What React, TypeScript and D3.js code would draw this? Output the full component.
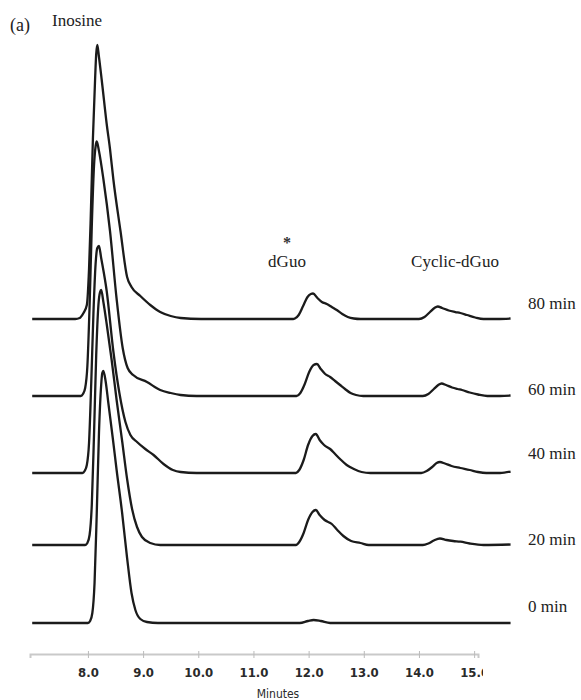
import { useEffect, useRef } from 'react';
import * as d3 from 'd3';

const width = 581;
const height = 700;

// sample labels, top to bottom, and the vertical offset of each trace (signal units)
const sampleLabels = ['80 min', '60 min', '40 min', '20 min', '0 min'];
const baselineOffsets = [304, 227, 150, 78, 0];
// how far each label sits above its trace baseline (signal units)
const labelLift = [10, 1, 14, 0, 11];

// retention time (min) vs. detector signal
const trace80: [number, number][] = [[6.99,0],[7.77,0],[7.85,1],[7.87,2],[7.92,6],[7.98,14],[8.02,50],[8.05,100],[8.09,180],[8.13,240],[8.15,265],[8.17,274],[8.20,262],[8.25,239],[8.34,195],[8.40,170],[8.46,140],[8.59,88],[8.71,42],[8.79,32],[8.95,23],[9.13,14],[9.31,7],[9.50,3],[9.68,1],[10.05,0],[11.72,0],[11.75,0.5],[11.82,4],[11.90,13],[11.98,22],[12.04,25],[12.08,25.5],[12.16,21],[12.24,17],[12.33,15],[12.42,12],[12.51,9],[12.61,5],[12.71,2],[12.82,0.5],[12.94,0],[14.00,0],[14.10,2],[14.20,7],[14.28,11],[14.34,12.5],[14.42,11],[14.54,8.5],[14.66,7],[14.75,6],[14.87,4],[15.02,1.5],[15.17,0],[15.42,0],[15.66,0.5]];
const trace60: [number, number][] = [[6.99,0],[7.87,0],[7.91,2],[7.95,8],[7.99,30],[8.03,90],[8.07,170],[8.11,230],[8.14,250],[8.16,254.5],[8.20,245],[8.28,217],[8.40,165],[8.52,97],[8.63,48],[8.72,28],[8.82,21],[9.07,14],[9.31,6],[9.50,3],[9.68,1],[9.97,0],[11.78,0],[11.85,3],[11.93,12],[12.01,24],[12.09,31],[12.15,32],[12.22,27],[12.30,22],[12.39,19],[12.48,15],[12.57,11],[12.66,7],[12.76,3],[12.86,1],[12.99,0],[14.07,0],[14.17,2],[14.27,7],[14.35,11],[14.41,12.5],[14.49,11],[14.60,8.5],[14.70,7],[14.78,6],[14.92,3.5],[15.07,1.5],[15.24,0],[15.47,0],[15.66,0.5]];
const trace40: [number, number][] = [[6.99,0],[7.90,0],[7.94,2],[7.98,8],[8.02,30],[8.06,90],[8.10,160],[8.14,210],[8.17,225],[8.20,227],[8.24,215],[8.34,182],[8.46,122],[8.57,80],[8.68,51],[8.77,38],[8.89,31],[9.04,24],[9.19,18],[9.37,9],[9.54,3],[9.68,1],[9.97,0],[11.77,0],[11.83,3],[11.91,13],[11.99,28],[12.07,37],[12.13,39],[12.20,33],[12.28,28],[12.39,24],[12.48,19],[12.57,14],[12.69,8],[12.82,4],[12.96,1],[13.12,0],[14.04,0],[14.14,2],[14.24,6],[14.32,10],[14.38,11],[14.47,9.5],[14.59,7],[14.75,5],[14.92,3],[15.07,1],[15.22,0],[15.47,0],[15.66,1.5]];
const trace20: [number, number][] = [[6.99,0],[7.95,0],[7.99,2],[8.03,10],[8.07,40],[8.11,110],[8.15,190],[8.19,240],[8.22,253],[8.24,255],[8.28,243],[8.34,221],[8.43,185],[8.52,145],[8.62,104],[8.71,66],[8.80,36],[8.89,18],[8.98,8],[9.13,2],[9.31,0],[11.77,0],[11.83,3],[11.91,12],[11.99,25],[12.07,33],[12.13,35],[12.20,30],[12.29,25],[12.42,21],[12.52,15],[12.63,9],[12.77,4],[12.94,2],[13.09,0],[14.07,0],[14.17,1.5],[14.27,4.5],[14.38,6.5],[14.50,5],[14.62,4],[14.75,3.3],[14.92,1.5],[15.17,0],[15.66,0.5]];
const trace0: [number, number][] = [[6.99,0],[8.00,0],[8.04,2],[8.08,10],[8.12,40],[8.16,110],[8.20,190],[8.24,238],[8.26,250],[8.28,252],[8.32,242],[8.37,220],[8.45,185],[8.52,153],[8.62,110],[8.71,65],[8.79,30],[8.86,13],[8.95,4],[9.07,1],[9.27,0],[11.84,0],[11.99,2],[12.09,3],[12.22,2],[12.39,0],[15.66,0]];

const traces = [trace80, trace60, trace40, trace20, trace0];

// x axis
const axisExtent = [6.95, 15.07];
const tickValues = [8, 9, 10, 11, 12, 13, 14, 15];

const Chromatogram = () => {
	const svgRef = useRef<SVGSVGElement>(null);

	useEffect(() => {
		const svg = d3.select(svgRef.current);
		svg.selectAll('*').remove();

		const x = d3.scaleLinear().domain(axisExtent).range([30, 478]);
		const y = d3.scaleLinear().domain([0, 600]).range([623, 23]);

		const serif = "'Liberation Serif', 'Times New Roman', serif";
		const narrow = "'Liberation Sans Narrow', 'Arial Narrow', 'DejaVu Sans Condensed', sans-serif";

		const line = d3
			.line<[number, number]>()
			.curve(d3.curveMonotoneX)
			.x(d => x(d[0]));

		traces.forEach((trace, i) => {
			const off = baselineOffsets[i];
			svg
				.append('path')
				.datum(trace)
				.attr('fill', 'none')
				.attr('stroke', '#1b1b1b')
				.attr('stroke-width', 2.3)
				.attr('stroke-linejoin', 'round')
				.attr('d', line.y(d => y(d[1] + off)));

			svg
				.append('text')
				.attr('x', 528)
				.attr('y', y(off + labelLift[i]))
				.style('font', `17px ${serif}`)
				.attr('fill', '#222')
				.text(sampleLabels[i]);
		});

		// peak annotations
		svg.append('text').attr('x', 10).attr('y', 31).style('font', `18px ${serif}`).attr('fill', '#222').text('(a)');
		svg.append('text').attr('x', 52).attr('y', 26).style('font', `17px ${serif}`).attr('fill', '#222').text('Inosine');
		svg.append('text').attr('x', 287).attr('y', 248).attr('text-anchor', 'middle').style('font', `bold 16px ${serif}`).attr('fill', '#333').text('*');
		svg.append('text').attr('x', 287).attr('y', 267).attr('text-anchor', 'middle').style('font', `17px ${serif}`).attr('fill', '#222').text('dGuo');
		svg.append('text').attr('x', 455).attr('y', 267).attr('text-anchor', 'middle').style('font', `17px ${serif}`).attr('fill', '#222').text('Cyclic-dGuo');

		// axis, cut off at the right like the source figure
		svg.append('clipPath').attr('id', 'axis-clip').append('rect').attr('x', 0).attr('y', -20).attr('width', 483).attr('height', 60);

		const axis = svg
			.append('g')
			.attr('clip-path', 'url(#axis-clip)')
			.attr('transform', 'translate(0,654)')
			.call(d3.axisBottom(x).tickValues(tickValues).tickFormat(d3.format('.1f')).tickSizeOuter(0).tickSize(4));

		axis.select('.domain').attr('stroke', '#c9c9c9').attr('stroke-width', 2);
		axis.selectAll('.tick line').attr('stroke', '#bbb').attr('y1', -3);
		axis
			.selectAll('.tick text')
			.attr('y', 14)
			.attr('fill', '#2a2a2a')
			.style('font', `bold 13px ${narrow}`);

		svg
			.append('text')
			.attr('x', 278)
			.attr('y', 698)
			.attr('text-anchor', 'middle')
			.attr('fill', '#2a2a2a')
			.style('font', `12px ${narrow}`)
			.text('Minutes');
	}, []);

	return (
		<svg
			ref={svgRef}
			width={width}
			height={height}
			style={{ position: 'absolute', left: 0, top: 0, background: '#fff' }}
		></svg>
	);
};

export default function App() {
	return <Chromatogram />;
}
